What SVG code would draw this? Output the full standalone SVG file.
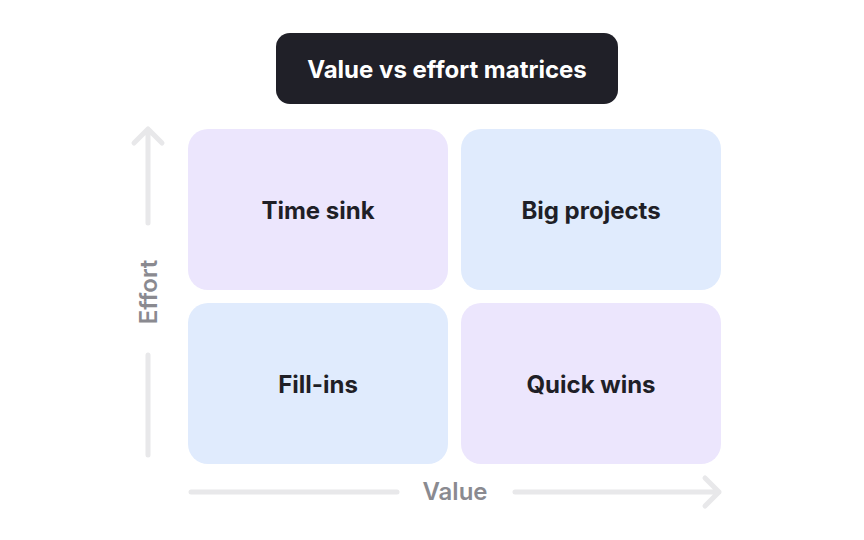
<svg xmlns="http://www.w3.org/2000/svg" width="864" height="540" viewBox="0 0 864 540">
<style>
.lbl{font-family:Inter,"Noto Sans","Liberation Sans",sans-serif;font-weight:700;font-size:24px;fill:#1f1f27;text-anchor:middle;dominant-baseline:central}
.ax{font-family:Inter,"Noto Sans","Liberation Sans",sans-serif;font-weight:600;font-size:24px;fill:#8a8a90;text-anchor:middle;dominant-baseline:central}
.line{stroke:#e8e8ea;stroke-width:5;stroke-linecap:round;stroke-linejoin:round;fill:none}
.purple{fill:#ece6fd}
.blue{fill:#e0ebfd}
</style>
<rect width="864" height="540" fill="#ffffff"/>
<g id="title">
<rect x="276" y="33" width="342" height="71" rx="14" fill="#202028"/>
<text x="447" y="69" class="lbl" style="fill:#ffffff">Value vs effort matrices</text>
</g>
<g id="time-sink">
<rect x="188" y="129" width="260" height="161" rx="20" class="purple"/>
<text x="318" y="210" class="lbl">Time sink</text>
</g>
<g id="big-projects">
<rect x="461" y="129" width="260" height="161" rx="20" class="blue"/>
<text x="591" y="210" class="lbl">Big projects</text>
</g>
<g id="fill-ins">
<rect x="188" y="303" width="260" height="161" rx="20" class="blue"/>
<text x="318" y="384" class="lbl">Fill-ins</text>
</g>
<g id="quick-wins">
<rect x="461" y="303" width="260" height="161" rx="20" class="purple"/>
<text x="591" y="384" class="lbl">Quick wins</text>
</g>
<g id="connectors">
<path class="line" d="M148 223 V129 M134 143 L148 129 L162 143"/>
<path class="line" d="M148 355 V455"/>
<text class="ax" transform="translate(148 292) rotate(-90)">Effort</text>
<path class="line" d="M191 492 H397"/>
<path class="line" d="M515 492 H719 M705 478 L719 492 L705 506"/>
<text class="ax" x="455" y="491">Value</text>
</g>
</svg>
